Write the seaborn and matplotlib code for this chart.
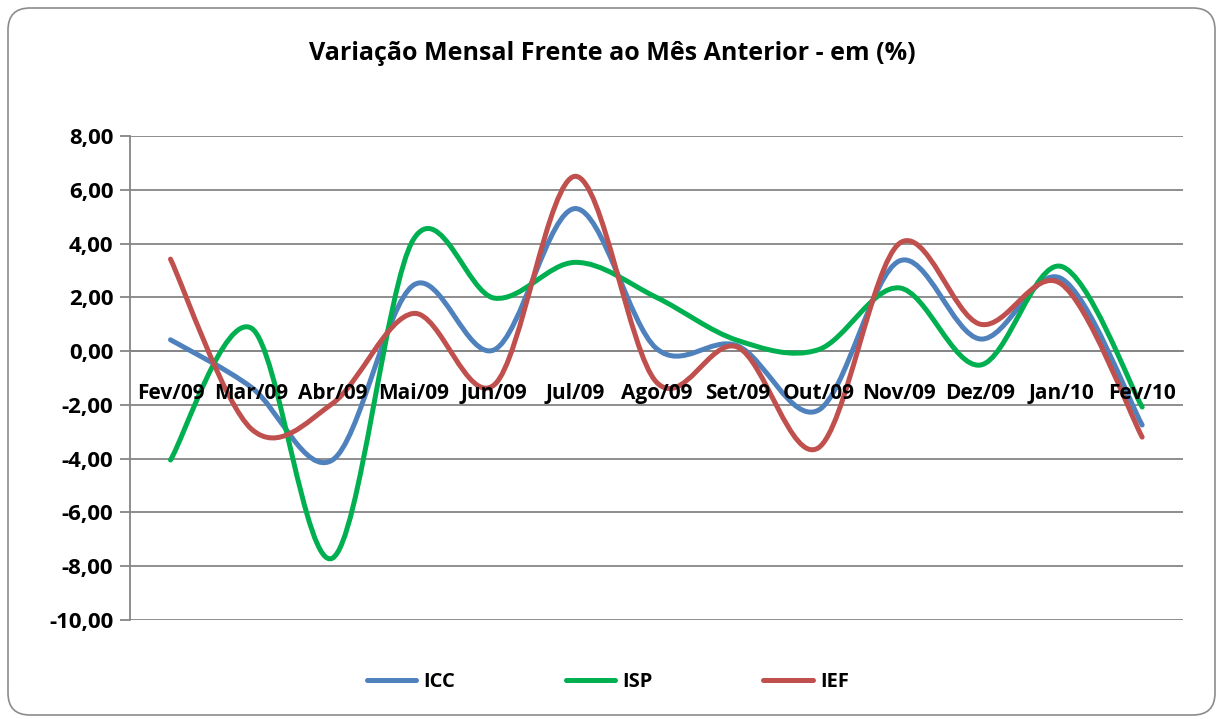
import numpy as np
import pandas as pd
import matplotlib
matplotlib.use("Agg")
import matplotlib.pyplot as plt
import seaborn as sns
from matplotlib.path import Path
from matplotlib.patches import PathPatch, FancyBboxPatch
from matplotlib.lines import Line2D
from matplotlib.ticker import FuncFormatter, FixedLocator

# dados
meses = ["Fev/09", "Mar/09", "Abr/09", "Mai/09", "Jun/09", "Jul/09", "Ago/09",
         "Set/09", "Out/09", "Nov/09", "Dez/09", "Jan/10", "Fev/10"]
icc = [0.42, -1.35, -4.05, 2.45, 0.05, 5.30, 0.10, 0.20, -2.20, 3.35, 0.45, 2.70, -2.75]
isp = [-4.05, 0.85, -7.70, 4.15, 1.97, 3.30, 2.00, 0.40, 0.05, 2.35, -0.52, 3.15, -2.08]
ief = [3.42, -2.90, -1.95, 1.40, -1.25, 6.50, -1.15, 0.15, -3.60, 4.00, 1.00, 2.50, -3.20]

df = pd.DataFrame({"mes": meses, "ICC": icc, "ISP": isp, "IEF": ief})
cores = {"ICC": "#4F81BD", "ISP": "#00B050", "IEF": "#C0504D"}
cinza = "#868686"

sns.set_style("white")
plt.rcParams["font.family"] = ["Open Sans", "DejaVu Sans"]
plt.rcParams["font.weight"] = "bold"
plt.rcParams["text.color"] = "black"
plt.rcParams["xtick.labelcolor"] = "black"
plt.rcParams["ytick.labelcolor"] = "black"


def curva_suave(xs, ys):
    # linha suavizada estilo Excel (Bezier pelos pontos)
    pts = np.column_stack([xs, ys]).astype(float)
    n = len(pts)
    verts = [pts[0]]
    codes = [Path.MOVETO]
    for i in range(n - 1):
        p0 = pts[max(i - 1, 0)]
        p1 = pts[i]
        p2 = pts[i + 1]
        p3 = pts[min(i + 2, n - 1)]
        verts += [p1 + (p2 - p0) / 6, p2 - (p3 - p1) / 6, p2]
        codes += [Path.CURVE4] * 3
    return Path(verts, codes)


fig = plt.figure(figsize=(12.23, 7.19), dpi=100)
ax = fig.add_axes([0.1063, 0.1377, 0.8607, 0.6732])

x = np.arange(len(meses))
for serie in ["ICC", "ISP", "IEF"]:
    ax.add_patch(PathPatch(curva_suave(x, df[serie]), facecolor="none",
                           edgecolor=cores[serie], lw=3.6, capstyle="round",
                           joinstyle="round", zorder=3))

ax.set_xlim(-0.5, len(meses) - 0.5)
ax.set_ylim(-10, 8)
ax.set_yticks(np.arange(-10, 9, 2))
ax.yaxis.set_major_formatter(FuncFormatter(lambda v, p: f"{v:.2f}".replace(".", ",")))
ax.yaxis.grid(True, color=cinza, lw=1.3, zorder=0)
ax.xaxis.grid(False)

ax.spines["top"].set_visible(False)
ax.spines["right"].set_visible(False)
ax.spines["left"].set_color(cinza)
ax.spines["left"].set_linewidth(1.3)
ax.spines["bottom"].set_position(("data", 0))
ax.spines["bottom"].set_color(cinza)
ax.spines["bottom"].set_linewidth(1.3)

ax.set_xticks(x)
ax.set_xticklabels(meses)
ax.xaxis.set_minor_locator(FixedLocator(np.arange(-0.5, len(meses), 1)))
ax.tick_params(axis="x", which="major", length=0, pad=23, labelsize=15, labelcolor="black")
ax.tick_params(axis="x", which="minor", length=6, width=1.3, color=cinza, direction="out")
ax.tick_params(axis="y", length=7, width=1.3, color=cinza, direction="out",
               labelsize=16, pad=5, left=True, labelcolor="black")
ax.xaxis.set_zorder(4)
for t in ax.get_xticklabels() + ax.get_yticklabels():
    t.set_fontweight("bold")

fig.text(0.501, 0.925, "Variação Mensal Frente ao Mês Anterior - em (%)",
         ha="center", va="center", fontsize=18, fontweight="bold", color="black")

handles = [Line2D([], [], color=cores[s], lw=3.6, solid_capstyle="round") for s in cores]
leg = fig.legend(handles, list(cores), loc="center", bbox_to_anchor=(0.497, 0.051),
                 ncol=3, frameon=False, fontsize=14.5, handlelength=2.45,
                 handletextpad=0.35, columnspacing=5.5, labelcolor="black")
for t in leg.get_texts():
    t.set_fontweight("bold")

borda = FancyBboxPatch((0.08, 0.04), 12.07, 7.07,
                       boxstyle="round,pad=0,rounding_size=0.22",
                       transform=fig.dpi_scale_trans, facecolor="none",
                       edgecolor="#8c8c8c", lw=1.2, zorder=-1)
fig.patches.append(borda)

fig.savefig("out.png", dpi=100)
